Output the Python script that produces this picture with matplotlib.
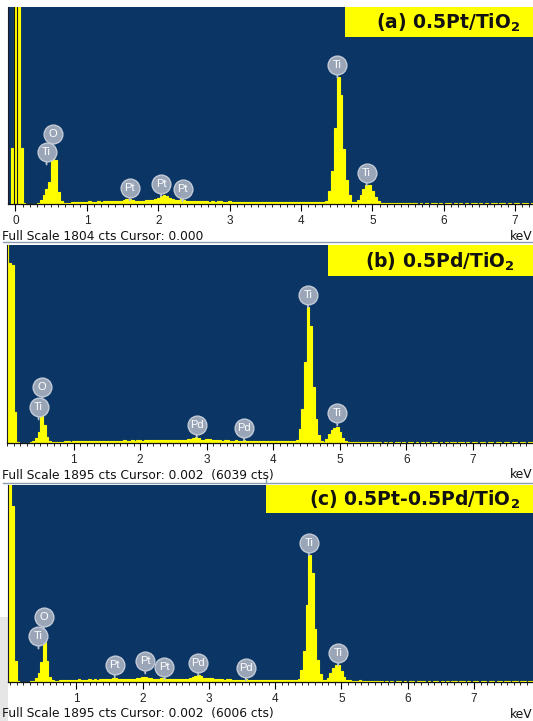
import numpy as np
import matplotlib
matplotlib.use("Agg")
import matplotlib.pyplot as plt
from matplotlib.patches import Rectangle
from matplotlib.lines import Line2D

plt.rcParams['font.family'] = ['Liberation Sans', 'DejaVu Sans']
plt.rcParams['mathtext.default'] = 'regular'

# EDS spectra, counts per 0.04 keV channel, first channel centred at -0.04 keV
counts_a = np.array([
    510, 5000, 5000, 510, 10, 3, 2, 2, 3, 5,
    35, 80, 140, 200, 440, 400, 110, 25, 10, 12,
    12, 15, 18, 20, 22, 20, 22, 24, 20, 22,
    24, 22, 25, 23, 26, 24, 28, 25, 30, 35,
    42, 45, 35, 30, 28, 32, 30, 35, 38, 40,
    45, 55, 72, 78, 70, 55, 45, 40, 38, 42,
    38, 32, 30, 28, 26, 30, 25, 27, 24, 22,
    24, 22, 25, 23, 20, 22, 24, 21, 20, 22,
    20, 19, 22, 18, 20, 21, 19, 18, 20, 17,
    18, 20, 17, 19, 18, 16, 18, 17, 16, 18,
    16, 17, 15, 16, 18, 15, 16, 17, 15, 18,
    30, 120, 300, 700, 1163, 1000, 500, 220, 80, 20,
    15, 40, 80, 135, 170, 175, 120, 60, 25, 12,
    10, 11, 9, 10, 12, 9, 10, 11, 9, 10,
    8, 6, 0, 7, 2, 8, 0, 6, 7, 1,
    8, 0, 7, 5, 0, 8, 3, 7, 0, 6,
    0, 8, 6, 0, 7, 2, 8, 0, 7, 5,
    0, 7, 8, 1, 6, 0, 8, 7, 0, 6,
    8, 0, 7, 5, 0, 8, 6, 0, 7, 8,
    0, 7, 6, 0, 8, 5, 0, 7, 6, 0,
])

counts_b = np.array([
    0, 5000, 1720, 1700, 300, 8, 3, 2, 2, 3,
    5, 20, 50, 110, 270, 170, 60, 15, 6, 8,
    10, 12, 14, 15, 16, 14, 17, 15, 16, 18,
    17, 16, 18, 17, 19, 18, 20, 17, 19, 21,
    20, 18, 21, 19, 22, 24, 20, 23, 25, 22,
    24, 28, 22, 26, 25, 27, 24, 28, 25, 26,
    28, 25, 27, 26, 24, 27, 25, 28, 30, 35,
    42, 52, 57, 48, 32, 28, 35, 38, 30, 26,
    25, 24, 22, 25, 28, 20, 22, 24, 20, 22,
    25, 20, 18, 20, 17, 19, 18, 16, 18, 17,
    16, 18, 15, 17, 16, 15, 17, 16, 15, 18,
    25, 130, 330, 780, 1300, 1120, 540, 230, 80, 20,
    14, 40, 85, 125, 148, 153, 105, 50, 22, 12,
    10, 9, 11, 10, 8, 10, 11, 9, 10, 8,
    9, 7, 0, 8, 3, 9, 0, 7, 8, 2,
    9, 0, 8, 6, 0, 9, 4, 8, 0, 7,
    0, 9, 7, 0, 8, 3, 9, 0, 8, 6,
    0, 8, 9, 2, 7, 0, 9, 8, 0, 7,
    9, 0, 8, 6, 0, 9, 7, 0, 8, 9,
    0, 8, 7, 0, 9, 6, 0, 8, 7, 0,
])

counts_c = np.array([
    0, 5000, 1690, 200, 10, 3, 2, 2, 3, 5,
    10, 40, 90, 190, 385, 200, 45, 15, 10, 12,
    15, 18, 20, 22, 20, 24, 22, 25, 23, 24,
    22, 25, 24, 26, 23, 27, 25, 26, 28, 30,
    35, 38, 30, 28, 27, 30, 28, 32, 30, 34,
    38, 45, 48, 42, 35, 32, 30, 33, 36, 34,
    32, 28, 30, 27, 29, 26, 28, 30, 32, 38,
    50, 60, 65, 55, 38, 35, 42, 40, 32, 28,
    26, 25, 24, 27, 25, 23, 24, 22, 23, 24,
    26, 22, 21, 20, 22, 19, 20, 21, 19, 20,
    18, 20, 17, 19, 18, 17, 19, 18, 17, 20,
    28, 120, 300, 740, 1222, 1050, 510, 210, 75, 20,
    15, 42, 88, 135, 160, 164, 110, 52, 24, 15,
    14, 12, 13, 15, 12, 14, 13, 12, 14, 12,
    10, 8, 0, 9, 4, 10, 0, 8, 9, 3,
    10, 0, 9, 7, 0, 10, 5, 9, 0, 8,
    0, 10, 8, 0, 9, 4, 10, 0, 9, 7,
    0, 9, 10, 3, 8, 0, 10, 9, 0, 8,
    10, 0, 9, 7, 0, 10, 8, 0, 9, 10,
    0, 9, 8, 0, 10, 7, 0, 9, 8, 0,
])

# peak labels: element, energy (keV), label height (cts)
names_a = ['Ti', 'O', 'Pt', 'Pt', 'Pt', 'Ti', 'Ti']
energy_a = [0.435, 0.52, 1.60, 2.04, 2.34, 4.51, 4.92]
height_a = [476, 641, 147, 183, 137, 1273, 284]

names_b = ['Ti', 'O', 'Pd', 'Pd', 'Ti', 'Ti']
energy_b = [0.475, 0.53, 2.85, 3.56, 4.52, 4.96]
height_b = [345, 536, 172, 144, 1416, 287]

names_c = ['Ti', 'O', 'Pt', 'Pt', 'Pt', 'Pd', 'Pd', 'Ti', 'Ti']
energy_c = [0.43, 0.51, 1.58, 2.04, 2.33, 2.84, 3.56, 4.51, 4.95]
height_c = [442, 625, 164, 202, 144, 183, 135, 1337, 279]

titles = ['(a) 0.5Pt/TiO$_2$', '(b) 0.5Pd/TiO$_2$', '(c) 0.5Pt-0.5Pd/TiO$_2$']
full_scale = [1804, 1895, 1895]
status = ['Full Scale 1804 cts Cursor: 0.000',
          'Full Scale 1895 cts Cursor: 0.002  (6039 cts)',
          'Full Scale 1895 cts Cursor: 0.002  (6006 cts)']
cursor_a = [-0.025, 0.02]

W, H = 533, 721
BLUE = '#0a3565'
YELLOW = '#ffff00'


def fx(x):
    return x / W


def fy(y):
    return 1 - y / H


def draw_panel(fig, box, xlim, counts, full, names, energy, height, title,
               title_box, title_right, status_txt, text_y, show_zero):
    left, top, right, base = box
    ax = fig.add_axes([fx(left), fy(base), fx(right - left), (base - top) / H])
    ax.set_facecolor(BLUE)
    edges = -0.06 + 0.04 * np.arange(len(counts) + 1)
    ax.stairs(counts, edges, fill=True, facecolor=YELLOW, edgecolor=YELLOW,
              lw=0.8, zorder=2)
    ax.set_yticks([])
    majors = list(range(0 if show_zero else 1, 8))
    ax.set_xticks(majors)
    ax.set_xticklabels([str(m) for m in majors], fontsize=8.5, color='#222222')
    ax.set_xticks(np.arange(0, 8.0, 0.1), minor=True)
    ax.set_xlim(*xlim)
    ax.set_ylim(0, full)
    ax.tick_params(axis='x', which='major', length=5, width=0.8, pad=3, direction='out')
    ax.tick_params(axis='x', which='minor', length=2.5, width=0.6, direction='out')
    for s in ['top', 'right']:
        ax.spines[s].set_visible(False)
    ax.spines['left'].set_color('#1a1a2a')
    ax.spines['bottom'].set_color('#111111')
    ax.spines['bottom'].set_linewidth(0.9)
    ax.spines['bottom'].set_zorder(3)

    for n, e, h in zip(names, energy, height):
        ax.annotate('', xy=(e, h), xytext=(0, -9), textcoords='offset points',
                    arrowprops=dict(arrowstyle='-', color='#b8c2d0', lw=1.3,
                                    shrinkA=0, shrinkB=0), zorder=3)
        ax.plot([e], [h], 'o', ms=13.5, mfc='#9aa6b8', mec='#c3cbd6', mew=1.0,
                zorder=4, clip_on=False)
        ax.text(e, h, n, ha='center', va='center', color='white', fontsize=8,
                zorder=5)

    bx0, by0, bx1, by1 = title_box
    fig.add_artist(Rectangle((fx(bx0), fy(by1)), fx(bx1 - bx0), (by1 - by0) / H,
                             transform=fig.transFigure, facecolor=YELLOW,
                             edgecolor='none', zorder=5))
    fig.text(fx(title_right), fy((by0 + by1) / 2 + 1), title, ha='right', va='center',
             fontsize=13.5, fontweight='bold', family='DejaVu Sans',
             color='#111111', zorder=6)

    fig.text(fx(2), fy(text_y), status_txt, ha='left', va='center',
             fontsize=8.8, family='DejaVu Sans', color='#111111')
    fig.text(fx(510), fy(text_y), 'keV', ha='left', va='center',
             fontsize=8.8, family='DejaVu Sans', color='#111111')
    return ax


fig = plt.figure(figsize=(W / 100, H / 100), dpi=100)
fig.patch.set_facecolor('white')

# light grey area at the lower left
fig.add_artist(Rectangle((0, 0), fx(8), fy(617), transform=fig.transFigure,
                         facecolor='#e6e6e6', edgecolor='none', zorder=0))

ax_a = draw_panel(fig, (8, 7, 533, 204), (-0.105, 7.25), counts_a, full_scale[0],
                  names_a, energy_a, height_a, titles[0], (345, 7, 533, 37), 520,
                  status[0], 236, True)
for c in cursor_a:
    ax_a.axvline(c, color='#1a1a1a', lw=0.8, zorder=3)

ax_b = draw_panel(fig, (7, 245, 533, 443), (0.0, 7.9), counts_b, full_scale[1],
                  names_b, energy_b, height_b, titles[1], (328, 245, 533, 276), 515,
                  status[1], 475, False)

ax_c = draw_panel(fig, (8, 485, 533, 682), (-0.03, 7.89), counts_c, full_scale[2],
                  names_c, energy_c, height_c, titles[2], (266, 485, 533, 513), 520,
                  status[2], 714, False)

# status bar borders
for y in [242, 483]:
    fig.add_artist(Line2D([fx(3), 1], [fy(y), fy(y)], transform=fig.transFigure,
                          color='#8c9bb0', lw=1.0))
fig.add_artist(Line2D([fx(266), fx(266)], [fy(478), fy(483)], transform=fig.transFigure,
                      color='#8c9bb0', lw=1.0))

fig.savefig('out.png', dpi=100, facecolor='white')
